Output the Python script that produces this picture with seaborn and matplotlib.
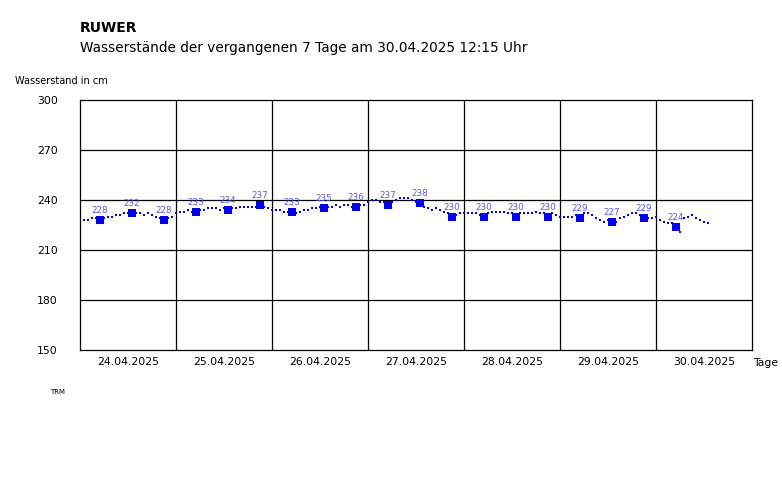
import numpy as np
import pandas as pd
import matplotlib
matplotlib.use("Agg")
import matplotlib.pyplot as plt
import seaborn as sns

# ---- data (hourly water levels in cm) ----
days = ["24.04.2025", "25.04.2025", "26.04.2025", "27.04.2025",
        "28.04.2025", "29.04.2025", "30.04.2025"]
lvl_24 = [None, 228, 228, 229, 229, 228, 229, 230, 230, 231, 231, 232,
          232, 232, 232, 232, 231, 232, 231, 230, 229, 228, 229, 230]
lvl_25 = [232, 233, 233, 234, 233, 233, 234, 234, 235, 235, 235, 234,
          235, 234, 235, 235, 236, 236, 236, 236, 236, 237, 236, 235]
lvl_26 = [234, 234, 234, 233, 233, 233, 232, 233, 234, 234, 235, 235,
          236, 235, 236, 236, 237, 236, 237, 237, 236, 236, 237, 237]
lvl_27 = [239, 240, 240, 239, 239, 238, 239, 240, 241, 241, 241, 240,
          239, 238, 236, 235, 234, 235, 234, 233, 232, 231, 231, 232]
lvl_28 = [232, 232, 232, 232, 231, 231, 232, 233, 233, 233, 233, 232,
          232, 231, 232, 232, 232, 232, 233, 232, 232, 231, 232, 231]
lvl_29 = [230, 230, 230, 230, 231, 230, 232, 232, 231, 229, 228, 227,
          228, 228, 227, 229, 230, 231, 232, 232, 231, 230, 229, 229]
lvl_30 = [230, 228, 227, 226, 226, 225, 221, 229, 230, 231, 229, 228,
          227, 226]
day_levels = [lvl_24, lvl_25, lvl_26, lvl_27, lvl_28, lvl_29, lvl_30]

# marked readings (05:00, 13:00, 21:00 each day)
mark_hours = [5, 13, 21]
mark_vals = [228, 232, 228, 233, 234, 237, 233, 235, 236, 237, 238, 230,
             230, 230, 230, 229, 227, 229, 224]

y_ticks = [150, 180, 210, 240, 270, 300]

# ---- build tables ----
rows = []
for d, lv in enumerate(day_levels):
    for h, v in enumerate(lv):
        if v is not None:
            rows.append({"t": d * 24 + h, "cm": v})
df = pd.DataFrame(rows)

mrows = []
for i, v in enumerate(mark_vals):
    d, k = divmod(i, 3)
    mrows.append({"t": d * 24 + mark_hours[k], "cm": v})
mdf = pd.DataFrame(mrows)

# ---- figure ----
sns.set_style("white")
plt.rcParams["font.family"] = ["DejaVu Sans"]
W, H = 782, 480
fig = plt.figure(figsize=(W / 100, H / 100), dpi=100)
ax = fig.add_axes([80 / W, (H - 350) / H, 672 / W, 250 / H])

sns.scatterplot(data=df, x="t", y="cm", ax=ax, color="#0000ff", marker="s",
                s=1.0, linewidth=0, legend=False, zorder=3)
sns.scatterplot(data=mdf, x="t", y="cm", ax=ax, color="#0000ff", marker="s",
                s=30, linewidth=0, legend=False, zorder=4)
for t, v in zip(mdf["t"], mdf["cm"]):
    ax.annotate(str(v), (t, v), xytext=(0, 3.5), textcoords="offset points",
                ha="center", va="bottom", fontsize=6.3, color="#5555ff",
                zorder=5)

ax.set_xlim(0, 168)
ax.set_ylim(150, 300)
ax.set_yticks(y_ticks)
ax.set_yticklabels([str(v) for v in y_ticks], fontsize=7.8, color="black")
for v in y_ticks[1:-1]:
    ax.axhline(v, color="black", lw=0.9, zorder=1)
for d in range(1, 7):
    ax.axvline(d * 24, color="black", lw=0.9, zorder=1)

ax.set_xticks([d * 24 + 12 for d in range(7)])
ax.set_xticklabels(days, fontsize=7.8, color="black")
ax.set_xticks([d * 24 + h for d in range(7) for h in (6, 18)], minor=True)
ax.tick_params(axis="x", which="major", direction="in", length=4, width=0.8,
               pad=5, colors="black")
ax.tick_params(axis="x", which="minor", direction="in", length=4, width=0.8)
ax.tick_params(axis="y", length=0, pad=16)
for lab in ax.get_yticklabels():
    lab.set_horizontalalignment("right")
ax.set_xlabel("")
ax.set_ylabel("")
for s in ax.spines.values():
    s.set_color("black")
    s.set_linewidth(0.9)

fig.text(80 / W, 1 - 28 / H, "RUWER", fontsize=10, fontweight="bold",
         va="center", ha="left", color="black")
fig.text(80 / W, 1 - 48 / H,
         "Wasserstände der vergangenen 7 Tage am 30.04.2025 12:15 Uhr",
         fontsize=9.8, va="center", ha="left", color="black")
fig.text(15 / W, 1 - 81 / H, "Wasserstand in cm", fontsize=7, va="center",
         ha="left", color="black")
fig.text(753 / W, 1 - 363 / H, "Tage", fontsize=7.8, va="center", ha="left",
         color="black")
fig.text(50 / W, 1 - 392 / H, "TRM", fontsize=5, va="center", ha="left",
         color="black")

fig.savefig("out.png", dpi=100, facecolor="white")
